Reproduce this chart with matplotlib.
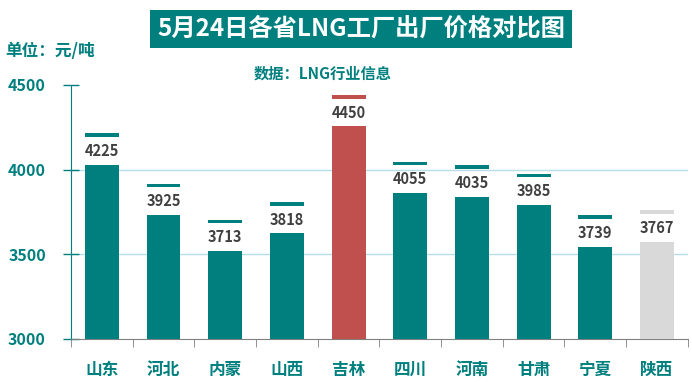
import matplotlib.pyplot as plt
import numpy as np

plt.rcParams['font.family'] = ['Noto Sans CJK SC', 'DejaVu Sans']

provinces = ['山东', '河北', '内蒙', '山西', '吉林', '四川', '河南', '甘肃', '宁夏', '陕西']
prices = [4225, 3925, 3713, 3818, 4450, 4055, 4035, 3985, 3739, 3767]
yticks = [3000, 3500, 4000, 4500]

teal = '#007f7f'
red = '#c0504d'
gray = '#d9d9d9'
colors = [teal] * 10
colors[4] = red
colors[9] = gray

gap = 195      # bar stops below the value, label sits in the gap
cap_h = 22

fig = plt.figure(figsize=(6.92, 3.82), dpi=100)
ax = fig.add_axes([0.1026, 0.1126, 0.8914, 0.6649])

x = np.arange(len(provinces))
vals = np.array(prices)
ax.bar(x, vals - gap - 3000, bottom=3000, width=0.55, color=colors, zorder=3)
ax.bar(x, cap_h, bottom=vals - 30, width=0.55, color=colors, zorder=3)
for xi, v in zip(x, vals):
    ax.text(xi, v - 113, str(v), ha='center', va='center', fontsize=10.5,
            fontweight='bold', color='#404040', zorder=4)

ax.set_xlim(-0.5, len(provinces) - 0.5)
ax.set_ylim(3000, 4500)
for g in (3500, 4000):
    ax.axhline(g, color='#b7dee8', lw=1, zorder=1)

ax.set_yticks(yticks)
ax.set_yticklabels([str(t) for t in yticks], fontsize=11.5, fontweight='bold', color=teal)
ax.tick_params(axis='y', direction='inout', length=12, color=teal, width=1, pad=12)

ax.set_xticks(x)
ax.set_xticklabels(provinces, fontsize=12, fontweight='bold', color=teal)
ax.tick_params(axis='x', which='major', length=0, pad=16)
ax.set_xticks(np.arange(-0.5, len(provinces)), minor=True)
ax.tick_params(axis='x', which='minor', length=6, color='#808080', direction='out')

for s in ('top', 'right'):
    ax.spines[s].set_visible(False)
ax.spines['left'].set_color(teal)
ax.spines['bottom'].set_color('#808080')

fig.text(0.522, 0.924, '5月24日各省LNG工厂出厂价格对比图', ha='center', va='center',
         fontsize=17.5, fontweight='bold', color='white',
         bbox=dict(boxstyle='square,pad=0.3', facecolor=teal, edgecolor='none'))
fig.text(0.007, 0.866, '单位：元/吨', ha='left', va='center', fontsize=12,
         fontweight='bold', color=teal)
fig.text(0.467, 0.808, '数据：LNG行业信息', ha='center', va='center', fontsize=11,
         fontweight='bold', color=teal)

fig.savefig('out.png', dpi=100)
